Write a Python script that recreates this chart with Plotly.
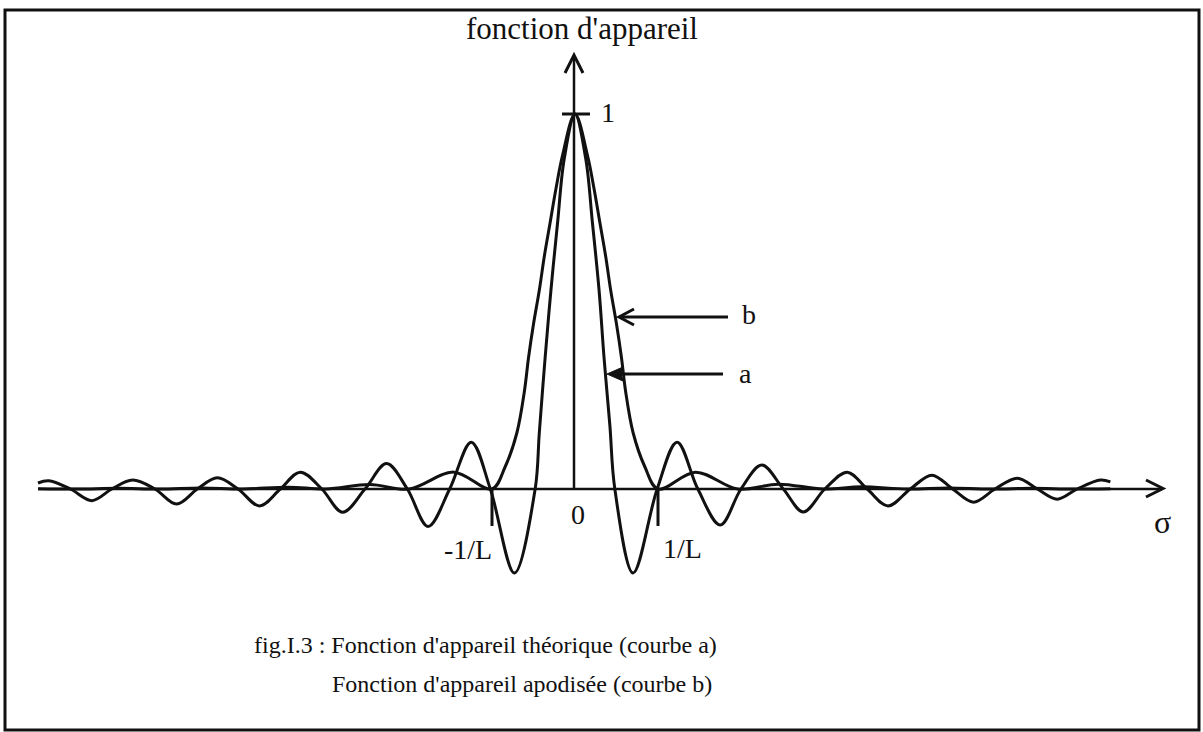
import plotly.graph_objects as go

W, H = 1203, 732
# pixel <-> data mapping (sigma in units of 1/L)
X0PX, Y0PX, XS, YS = 575.0, 489.0, 83.0, 375.0

# ---- data ----
sigma_a = [-6.47, -6.34, -6.08, -5.82, -5.58, -5.33, -5.06, -4.80, -4.55, -4.31, -4.06,
           -3.80, -3.55, -3.31, -3.05, -2.80, -2.53, -2.27, -2.02, -1.77, -1.51, -1.25,
           -1.02, -0.73, -0.48, -0.43, -0.36, -0.29, -0.21, -0.13, 0.0,
           0.13, 0.21, 0.29, 0.35, 0.42, 0.48, 0.70, 0.99, 1.23, 1.48, 1.75, 2.00,
           2.25, 2.51, 2.75, 3.01, 3.28, 3.52, 3.77, 4.04, 4.30, 4.55, 4.80, 5.06,
           5.33, 5.57, 5.81, 6.05, 6.33, 6.45]
curve_a = [0.016, 0.022, 0.0, -0.031, 0.0, 0.024, 0.0, -0.040, 0.0, 0.030, 0.0,
           -0.045, 0.0, 0.045, 0.0, -0.062, 0.0, 0.068, 0.0, -0.100, 0.0, 0.125,
           0.0, -0.224, 0.0, 0.15, 0.35, 0.53, 0.71, 0.88, 1.0,
           0.88, 0.71, 0.53, 0.35, 0.17, 0.0, -0.224, 0.0, 0.125, 0.0, -0.096, 0.0,
           0.064, 0.0, -0.061, 0.0, 0.045, 0.0, -0.045, 0.0, 0.037, 0.0, -0.035, 0.0,
           0.029, 0.0, -0.027, 0.0, 0.024, 0.019]

sigma_b = [-6.47, -6.0, -5.5, -5.0, -4.5, -4.0, -3.45, -3.0, -2.47, -2.0, -1.46, -1.0,
           -0.84, -0.70, -0.61, -0.56, -0.50, -0.43, -0.37, -0.30, -0.23, -0.15, 0.0,
           0.15, 0.23, 0.30, 0.37, 0.43, 0.50, 0.56, 0.61, 0.70, 0.84, 1.0,
           1.45, 1.96, 2.45, 2.99, 3.45, 4.0, 4.5, 5.0, 5.5, 6.0, 6.45]
curve_b = [0.001, 0.0, 0.002, 0.0, 0.003, 0.0, 0.005, 0.0, 0.012, 0.0, 0.045, 0.0,
           0.06, 0.15, 0.26, 0.35, 0.44, 0.53, 0.62, 0.71, 0.80, 0.89, 1.0,
           0.89, 0.80, 0.71, 0.62, 0.53, 0.44, 0.35, 0.26, 0.15, 0.06, 0.0,
           0.045, 0.0, 0.013, 0.0, 0.006, 0.0, 0.003, 0.0, 0.002, 0.0, 0.001]

tick_labels = ["-1/L", "0", "1/L"]
tick_pos = [-1.0, 0.0, 1.0]

FONT = "Liberation Serif, Times New Roman, serif"
INK = "#111111"


def px(x):
    return (x - X0PX) / XS


def py(y):
    return (Y0PX - y) / YS


fig = go.Figure()
fig.add_trace(go.Scatter(x=sigma_a, y=curve_a, mode="lines", name="a",
                         line=dict(color=INK, width=3, shape="spline", smoothing=1.0),
                         hoverinfo="skip", showlegend=False))
fig.add_trace(go.Scatter(x=sigma_b, y=curve_b, mode="lines", name="b",
                         line=dict(color=INK, width=3, shape="spline", smoothing=1.0),
                         hoverinfo="skip", showlegend=False))

shapes = []


def line(x0, y0, x1, y1, w=2.5):
    shapes.append(dict(type="line", xref="x", yref="y", x0=px(x0), y0=py(y0),
                       x1=px(x1), y1=py(y1), line=dict(color=INK, width=w)))


def path(pts, w=2.5, fill=False):
    d = "M " + " L ".join(f"{px(a)},{py(b)}" for a, b in pts)
    if fill:
        d += " Z"
    shapes.append(dict(type="path", xref="x", yref="y", path=d,
                       line=dict(color=INK, width=w),
                       fillcolor=INK if fill else "rgba(0,0,0,0)"))


# frame
shapes.append(dict(type="rect", xref="paper", yref="paper",
                   x0=5 / W, x1=1199 / W, y0=1 - 730 / H, y1=1 - 10 / H,
                   line=dict(color=INK, width=3)))
# horizontal axis with arrow
line(38, 489, 1162, 489)
path([(1146, 480), (1163, 488.5), (1146, 497)], w=3)
# vertical axis with arrow
line(574, 489, 574, 57)
path([(565, 73), (574, 55), (583, 73)], w=3)
# unit tick
line(562, 114, 590, 114, w=3)
# +-1/L ticks
for t in [tick_pos[0], tick_pos[2]]:
    xp = X0PX + t * XS
    line(xp, 489, xp, 526, w=3)
# b pointer
line(620, 317, 728, 317, w=3)
path([(634, 309), (619, 317), (634, 325)], w=3)
# a pointer
line(612, 374, 723, 374, w=3)
path([(607, 374), (623, 367), (621, 374), (623, 381)], w=1, fill=True)

ann = []


def text(s, x, y, size, anchor="center"):
    ann.append(dict(text=s, x=px(x), y=py(y), xref="x", yref="y", showarrow=False,
                    xanchor=anchor, yanchor="middle",
                    font=dict(family=FONT, size=size, color=INK)))


text("fonction d'appareil", 582, 28, 31)
text("1", 608, 112, 28)
text(tick_labels[1], 578, 514, 28)
text(tick_labels[0], 468, 549, 28)
text(tick_labels[2], 682, 548, 28)
text("σ", 1162, 522, 32)
text("b", 749, 314, 28)
text("a", 745, 373, 28)
text("fig.I.3 : Fonction d'appareil théorique (courbe a)", 252, 645, 24, "left")
text("Fonction d'appareil apodisée (courbe b)", 330, 684, 24, "left")

fig.update_layout(
    width=W, height=H, margin=dict(l=0, r=0, t=0, b=0),
    paper_bgcolor="white", plot_bgcolor="white",
    xaxis=dict(range=[px(0), px(W)], visible=False, fixedrange=True),
    yaxis=dict(range=[py(H), py(0)], visible=False, fixedrange=True),
    shapes=shapes, annotations=ann, showlegend=False,
)

fig.write_html("out.html")
